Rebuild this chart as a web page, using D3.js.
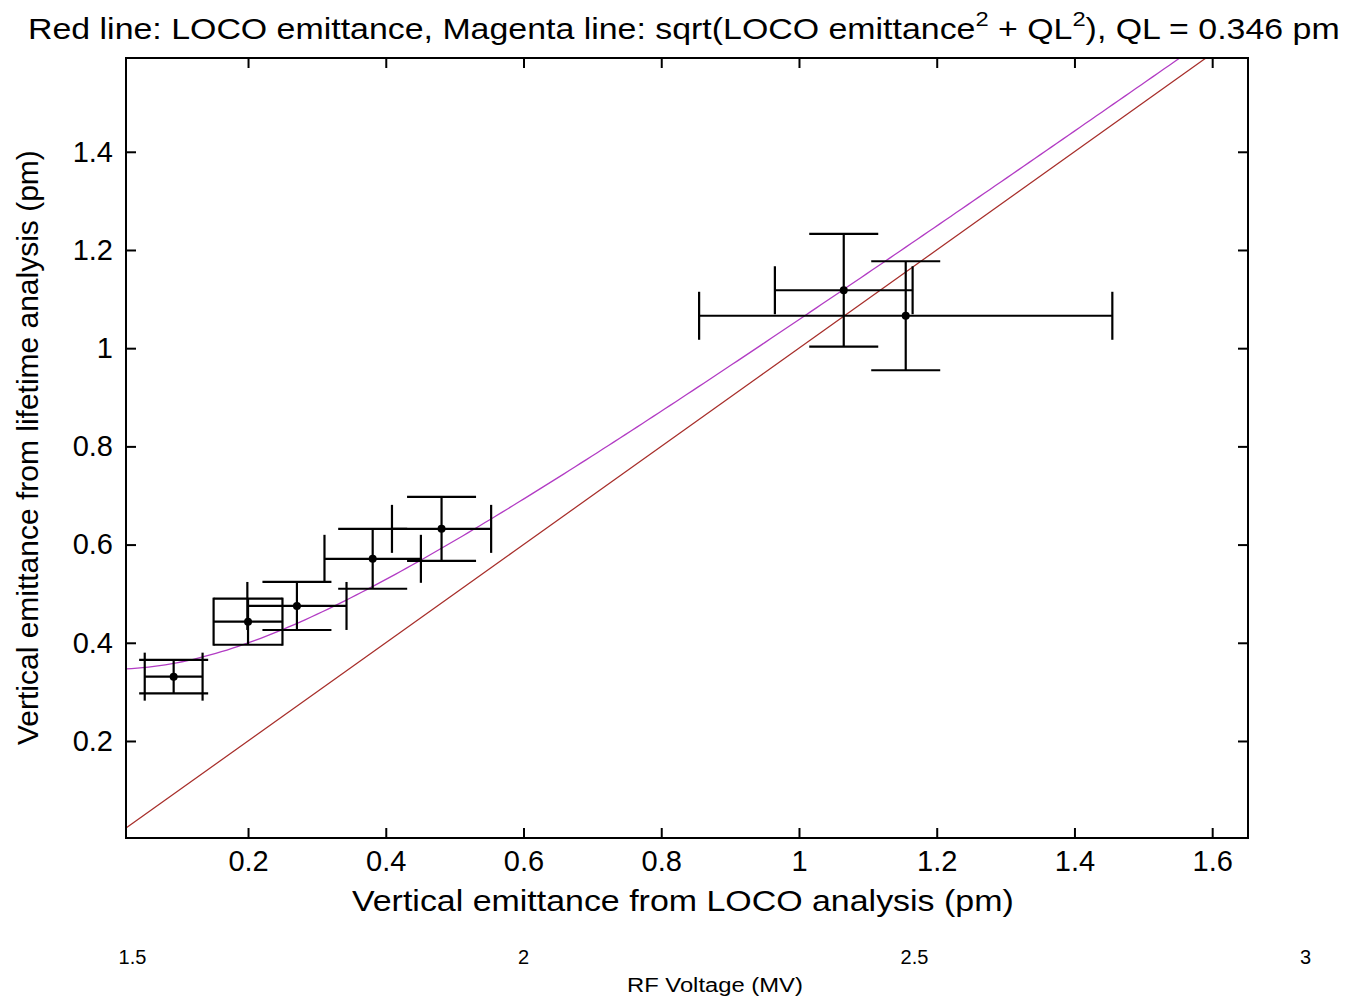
<!DOCTYPE html>
<html>
<head>
<meta charset="utf-8">
<script src="https://cdn.jsdelivr.net/npm/d3@7"></script>
<style>
	body { margin: 0; background: #fff; }
	svg { display: block; font-family: "Liberation Sans", Arial, sans-serif; }
	.axis path { display: none; }
	.axis line { stroke: #000; stroke-width: 2; }
	.axis text { fill: #000; }
</style>
</head>
<body>
<div id="chart"></div>
<script>
// data
var locoEmit = [0.092, 0.200, 0.271, 0.381, 0.481, 1.065, 1.155];
var lifetimeEmit = [0.331, 0.443, 0.475, 0.571, 0.632, 1.118, 1.066];
var locoErr = [0.042, 0.050, 0.072, 0.070, 0.072, 0.100, 0.300];
var lifetimeErr = [0.034, 0.047, 0.049, 0.061, 0.065, 0.115, 0.111];
var qlValue = 0.346;
var xTicks = [0.2, 0.4, 0.6, 0.8, 1, 1.2, 1.4, 1.6];
var yTicks = [0.2, 0.4, 0.6, 0.8, 1, 1.2, 1.4];
var rfTicks = [1.5, 2, 2.5, 3];

initChart();

function initChart() {
	var width = 1350;
	var height = 997;
	var margin = {
		top: 58,
		right: 102,
		bottom: 159,
		left: 126
	};
	var plotW = width - margin.left - margin.right;
	var plotH = height - margin.top - margin.bottom;
	var capW = 34.5;
	var capH = 24;

	var svg = d3.select('#chart')
		.append('svg')
		.attr('width', width)
		.attr('height', height);

	var xScale = d3.scaleLinear()
		.domain([0.0228, 1.652])
		.range([0, plotW]);

	var yScale = d3.scaleLinear()
		.domain([0.0024, 1.591])
		.range([plotH, 0]);

	var wrapper = svg.append('g')
		.attr('transform', 'translate(' + margin.left + ',' + margin.top + ')');

	wrapper.append('clipPath')
		.attr('id', 'plot-clip')
		.append('rect')
		.attr('width', plotW)
		.attr('height', plotH);

	// lines: y = x and sqrt(x^2 + QL^2)
	var lineX = d3.range(0, 201).map(function(i) {
		return xScale.domain()[0] + (xScale.domain()[1] - xScale.domain()[0]) * i / 200;
	});

	var line = d3.line()
		.x(function(d) { return xScale(d[0]); })
		.y(function(d) { return yScale(d[1]); });

	var lines = wrapper.append('g')
		.attr('clip-path', 'url(#plot-clip)');

	lines.append('path')
		.attr('d', line(lineX.map(function(x) { return [x, x]; })))
		.attr('fill', 'none')
		.attr('stroke', '#a8302c')
		.attr('stroke-width', 1.3);

	lines.append('path')
		.attr('d', line(lineX.map(function(x) { return [x, Math.sqrt(x * x + qlValue * qlValue)]; })))
		.attr('fill', 'none')
		.attr('stroke', '#b23cc4')
		.attr('stroke-width', 1.3);

	// error bars
	var points = locoEmit.map(function(x, i) {
		return { x: x, y: lifetimeEmit[i], ex: locoErr[i], ey: lifetimeErr[i] };
	});

	var bars = wrapper.append('g')
		.attr('stroke', '#000')
		.attr('stroke-width', 2.2);

	points.forEach(function(d) {
		var cx = xScale(d.x);
		var cy = yScale(d.y);
		var x0 = xScale(d.x - d.ex);
		var x1 = xScale(d.x + d.ex);
		var y0 = yScale(d.y - d.ey);
		var y1 = yScale(d.y + d.ey);
		var segs = [
			[x0, cy, x1, cy],
			[x0, cy - capH, x0, cy + capH],
			[x1, cy - capH, x1, cy + capH],
			[cx, y0, cx, y1],
			[cx - capW, y0, cx + capW, y0],
			[cx - capW, y1, cx + capW, y1]
		];
		segs.forEach(function(s) {
			bars.append('line')
				.attr('x1', s[0])
				.attr('y1', s[1])
				.attr('x2', s[2])
				.attr('y2', s[3]);
		});
	});

	wrapper.selectAll('.dot')
		.data(points)
		.enter()
		.append('circle')
		.attr('class', 'dot')
		.attr('cx', function(d) { return xScale(d.x); })
		.attr('cy', function(d) { return yScale(d.y); })
		.attr('r', 4)
		.attr('fill', '#000');

	// axes, ticks pointing inward on all four sides
	var fmt = function(d) { return String(d); };

	var xAxis = wrapper.append('g')
		.attr('class', 'axis')
		.attr('transform', 'translate(0,' + plotH + ')')
		.call(d3.axisBottom(xScale).tickValues(xTicks).tickFormat(fmt).tickSizeInner(-10).tickSizeOuter(0).tickPadding(12));
	xAxis.selectAll('text')
		.style('font-size', '29px')
		.attr('dy', '0.71em');

	wrapper.append('g')
		.attr('class', 'axis')
		.call(d3.axisTop(xScale).tickValues(xTicks).tickFormat('').tickSizeInner(-10).tickSizeOuter(0));

	var yAxis = wrapper.append('g')
		.attr('class', 'axis')
		.call(d3.axisLeft(yScale).tickValues(yTicks).tickFormat(fmt).tickSizeInner(-10).tickSizeOuter(0).tickPadding(13));
	yAxis.selectAll('text')
		.style('font-size', '29px');

	wrapper.append('g')
		.attr('class', 'axis')
		.attr('transform', 'translate(' + plotW + ',0)')
		.call(d3.axisRight(yScale).tickValues(yTicks).tickFormat('').tickSizeInner(-10).tickSizeOuter(0));

	wrapper.append('rect')
		.attr('width', plotW)
		.attr('height', plotH)
		.attr('fill', 'none')
		.attr('stroke', '#000')
		.attr('stroke-width', 2);

	// titles
	var title = svg.append('text')
		.style('font-size', '30px');
	title.append('tspan').text('Red line: LOCO emittance, Magenta line: sqrt(LOCO emittance');
	title.append('tspan').attr('dy', -13).style('font-size', '21px').text('2');
	title.append('tspan').attr('dy', 13).text(' + QL');
	title.append('tspan').attr('dy', -13).style('font-size', '21px').text('2');
	title.append('tspan').attr('dy', 13).text('), QL = 0.346 pm');
	fitWidth(title, 28, 39, 0, 1312);

	var xLabel = svg.append('text')
		.style('font-size', '30px')
		.text('Vertical emittance from LOCO analysis (pm)');
	fitWidth(xLabel, 352, 911, 0, 662);

	var yLabel = svg.append('text')
		.style('font-size', '30px')
		.text('Vertical emittance from lifetime analysis (pm)');
	fitWidth(yLabel, 38, 745, -90, 595);

	// secondary RF voltage scale below
	var rfScale = d3.scaleLinear()
		.domain([1.5, 3])
		.range([132, 1305]);

	var rfAxis = svg.append('g')
		.attr('class', 'axis')
		.attr('transform', 'translate(0,946)')
		.call(d3.axisBottom(rfScale).tickValues(rfTicks).tickFormat(fmt).tickSize(0).tickPadding(4));
	rfAxis.selectAll('text')
		.style('font-size', '20px')
		.attr('dy', '0.71em');

	var rfLabel = svg.append('text')
		.style('font-size', '20px')
		.text('RF Voltage (MV)');
	fitWidth(rfLabel, 627, 992, 0, 176);
}

// stretch a text element along its baseline so it covers the given length
function fitWidth(sel, x, y, angle, w) {
	var natural = sel.node().getComputedTextLength();
	sel.attr('x', 0)
		.attr('y', 0)
		.attr('transform', 'translate(' + x + ',' + y + ') rotate(' + angle + ') scale(' + (w / natural) + ',1)');
}
</script>
</body>
</html>
